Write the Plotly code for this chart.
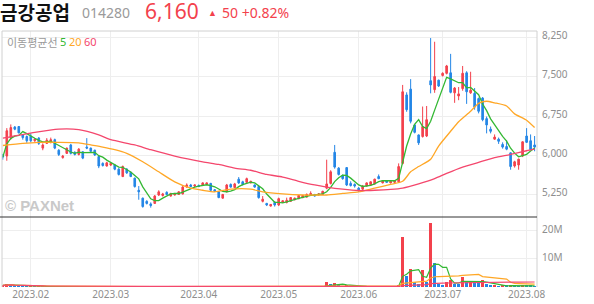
import pandas as pd
import plotly.graph_objects as go

# ---------------- data ----------------
holidays = ["2023-01-23", "2023-01-24", "2023-03-01", "2023-05-01", "2023-05-05", "2023-05-29", "2023-06-06"]
dates = [d for d in pd.bdate_range("2023-01-19", "2023-08-03") if d.strftime("%Y-%m-%d") not in holidays]

opens = [6010, 5990, 6330, 6540, 6550, 6390, 6360, 6370, 6280, 6330, 6140, 6230, 6250, 6300, 6100, 5960, 6040, 6200, 6060, 6020,
         6070, 6160, 6140, 6100, 5980, 5850, 5800, 5820, 5820, 5740, 5600, 5740, 5680, 5570, 5340, 5190, 5130, 5080, 5090, 5250,
         5240, 5300, 5230, 5250, 5260, 5270, 5400, 5440, 5420, 5430, 5440, 5450, 5470, 5350, 5310, 5190, 5310, 5450, 5390, 5550,
         5500, 5490, 5480, 5440, 5410, 5130, 5090, 5040, 5110, 5060, 5110, 5110, 5130, 5160, 5180, 5200, 5210, 5250, 5260, 5250,
         5260, 5380, 5470, 6060, 5760, 5620, 5770, 5470, 5450, 5380, 5360, 5420, 5440, 5460, 5600, 5480, 5520, 5480, 5490, 5500,
         5850, 7150, 7260, 6580, 6390, 6360, 6370, 7420, 7250, 7430, 7520, 7560, 7570, 7190, 7130, 7270, 7570, 7190, 7180, 7080,
         7090, 6700, 6500, 6310, 6310, 6210, 6170, 6050, 5800, 5820, 5990, 6370, 6280, 6200]
highs = [6030, 6520, 6590, 6560, 6560, 6400, 6380, 6420, 6330, 6350, 6230, 6330, 6340, 6320, 6120, 6010, 6150, 6220, 6080, 6140,
         6080, 6330, 6150, 6110, 6000, 5870, 5880, 5870, 5840, 5760, 5810, 5760, 5690, 5580, 5420, 5200, 5150, 5110, 5250, 5340,
         5290, 5320, 5290, 5290, 5320, 5420, 5470, 5460, 5450, 5450, 5490, 5490, 5480, 5360, 5320, 5270, 5460, 5470, 5480, 5590,
         5520, 5580, 5520, 5450, 5420, 5230, 5100, 5080, 5130, 5200, 5150, 5200, 5210, 5200, 5250, 5250, 5280, 5320, 5270, 5280,
         5330, 5920, 5720, 6200, 5780, 5640, 5780, 5510, 5470, 5400, 5440, 5490, 5510, 5560, 5640, 5530, 5530, 5520, 5530, 5850,
         7340, 7200, 7450, 6600, 6400, 6930, 6940, 8230, 8160, 7440, 7580, 7720, 7930, 7300, 7300, 7700, 7600, 7590, 7280, 7100,
         7110, 6740, 6550, 6400, 6340, 6250, 6290, 6060, 5900, 5940, 6270, 6520, 6400, 6370]
lows = [5920, 5900, 6300, 6480, 6420, 6300, 6240, 6250, 6260, 6200, 6100, 6220, 6230, 6120, 5990, 5940, 6030, 6020, 6000, 6000,
        5930, 6120, 6060, 5990, 5760, 5790, 5790, 5800, 5720, 5620, 5590, 5650, 5590, 5390, 5160, 5010, 5070, 5010, 5080, 5230,
        5220, 5250, 5220, 5240, 5250, 5260, 5390, 5400, 5400, 5400, 5430, 5440, 5320, 5310, 5190, 5180, 5300, 5390, 5380, 5460,
        5430, 5480, 5470, 5390, 5180, 5110, 5040, 5030, 5030, 5040, 5100, 5090, 5120, 5150, 5170, 5190, 5200, 5240, 5220, 5240,
        5250, 5360, 5450, 5750, 5620, 5540, 5420, 5410, 5390, 5310, 5320, 5410, 5430, 5450, 5550, 5470, 5480, 5470, 5480, 5480,
        5830, 6830, 6610, 6420, 6200, 6340, 6350, 7180, 7190, 7300, 7500, 7540, 7180, 7000, 7050, 7230, 6980, 7170, 6870, 6800,
        6650, 6420, 6420, 6300, 6220, 6130, 6100, 5730, 5770, 5730, 5970, 6240, 6100, 6080]
closes = [5970, 6470, 6530, 6500, 6430, 6340, 6280, 6280, 6310, 6230, 6200, 6290, 6300, 6140, 6020, 5990, 6140, 6040, 6020, 6120,
          5950, 6140, 6080, 6010, 5800, 5810, 5860, 5850, 5740, 5640, 5790, 5670, 5600, 5410, 5310, 5030, 5090, 5050, 5230, 5310,
          5270, 5260, 5280, 5270, 5310, 5400, 5440, 5410, 5440, 5410, 5480, 5480, 5340, 5320, 5200, 5260, 5440, 5400, 5460, 5480,
          5450, 5560, 5510, 5400, 5200, 5170, 5060, 5070, 5060, 5180, 5140, 5150, 5200, 5190, 5240, 5240, 5260, 5280, 5230, 5270,
          5320, 5460, 5690, 5780, 5640, 5560, 5440, 5430, 5420, 5350, 5420, 5480, 5500, 5550, 5560, 5520, 5490, 5510, 5520, 5790,
          7210, 6870, 6650, 6440, 6240, 6550, 6680, 7340, 7500, 7320, 7560, 7700, 7200, 7280, 7170, 7560, 7210, 7240, 6920, 6840,
          6680, 6580, 6460, 6350, 6270, 6160, 6120, 5790, 5880, 5930, 6260, 6250, 6110, 6160]
volumes_m = [0.6, 0.9, 0.7, 0.4, 0.3, 0.25, 0.2, 0.2, 0.15, 0.2, 0.15, 0.15, 0.12, 0.2, 0.2, 0.12, 0.15, 0.15, 0.1, 0.12,
             0.12, 0.15, 0.1, 0.1, 0.2, 0.1, 0.08, 0.1, 0.1, 0.12, 0.15, 0.1, 0.1, 0.18, 0.2, 0.25, 0.12, 0.1, 0.15, 0.12,
             0.1, 0.08, 0.08, 0.07, 0.08, 0.12, 0.1, 0.08, 0.07, 0.07, 0.08, 0.07, 0.1, 0.08, 0.1, 0.08, 0.12, 0.08, 0.09, 0.1,
             0.08, 0.09, 0.07, 0.08, 0.15, 0.1, 0.1, 0.07, 0.08, 0.1, 0.07, 0.07, 0.08, 0.07, 0.08, 0.07, 0.08, 0.1, 0.07, 0.07,
             0.1, 1.8, 1.0, 1.5, 0.5, 0.3, 0.6, 0.3, 0.2, 0.15, 0.15, 0.2, 0.18, 0.2, 0.25, 0.15, 0.12, 0.15, 0.2, 0.6,
             17.9, 3.8, 6.3, 1.8, 1.2, 6.0, 1.9, 22.9, 8.6, 1.0, 0.6, 1.8, 2.4, 1.2, 1.1, 3.6, 1.8, 1.9, 1.8, 1.7,
             2.4, 1.0, 0.4, 0.5, 0.3, 0.5, 0.4, 0.6, 0.4, 0.3, 0.6, 0.5, 0.4, 0.3]

# moving averages (index, price)
ma20_idx = [0, 5, 9, 14, 19, 22, 25, 28, 31, 35, 39, 43, 47, 50, 53, 57, 62, 65, 70, 75, 79, 81, 85, 89, 93, 97, 100,
            102, 104, 107, 109, 112, 114, 117, 119, 121, 123, 126, 128, 131, 133]
ma20_val = [6190, 6230, 6250, 6250, 6240, 6200, 6160, 6110, 6040, 5880, 5690, 5500, 5380, 5340, 5310, 5360, 5360, 5310, 5270,
            5250, 5250, 5250, 5280, 5310, 5380, 5450, 5510, 5690, 5790, 5930, 6180, 6460, 6640, 6840, 6990, 7030, 7000, 6940,
            6790, 6670, 6530]
ma60_idx = [0, 8, 14, 19, 24, 27, 33, 37, 43, 50, 54, 58, 62, 66, 70, 74, 78, 81, 85, 89, 93, 97, 100, 104, 108, 111, 115,
            119, 123, 127, 131, 133]
ma60_val = [6330, 6440, 6500, 6490, 6390, 6300, 6200, 6110, 5990, 5880, 5830, 5760, 5720, 5640, 5590, 5510, 5440, 5400, 5360,
            5335, 5340, 5355, 5380, 5460, 5560, 5660, 5780, 5870, 5960, 6020, 6090, 6120]

stock_name = "금강공업"
stock_code = "014280"
last_price = "6,160"
change_text = "50 +0.82%"
legend_title = "이동평균선"
legend_periods = ["5", "20", "60"]
month_labels = ["2023.02", "2023.03", "2023.04", "2023.05", "2023.06", "2023.07", "2023.08"]
price_ticks = [5250, 6000, 6750, 7500, 8250]
vol_ticks = [10e6, 20e6]
vol_tick_text = ["10M", "20M"]

# ---------------- derived ----------------
idx = list(range(len(dates)))
vol = pd.Series(volumes_m) * 1e6
close_s = pd.Series(closes)
ma5 = close_s.rolling(5, min_periods=1).mean()
vma5 = vol.rolling(5, min_periods=1).mean()
vma20 = vol.rolling(20, min_periods=1).mean()
vma60 = vol.rolling(60, min_periods=1).mean()

RED = "#f3414c"
BLUE = "#2486e6"
GREEN = "#33b833"
ORANGE = "#ffa726"
PINK = "#f4476d"
GRID = "#eeeeee"
TXT = "#8e8e8e"

vol_colors = [RED] + [RED if vol[i] >= vol[i - 1] else BLUE for i in range(1, len(vol))]

first_of_month = []
for i, d in enumerate(dates):
    if i > 0 and d.month != dates[i - 1].month:
        first_of_month.append(i)

# ---------------- geometry ----------------
W, H = 594, 304
ML, MR, MT, MB = 2, 57, 31, 17
PW, PH = W - ML - MR, H - MT - MB
split = (287 - 217) / PH


def px(x):
    return (x - ML) / PW


def py(y):
    return (H - MB - y) / PH


fig = go.Figure()
fig.add_trace(go.Candlestick(
    x=idx, open=opens, high=highs, low=lows, close=closes,
    increasing=dict(line=dict(color=RED, width=1), fillcolor=RED),
    decreasing=dict(line=dict(color=BLUE, width=1), fillcolor=BLUE),
    whiskerwidth=0, xaxis="x", yaxis="y", hoverinfo="skip"))
fig.add_trace(go.Scatter(x=idx, y=ma5, mode="lines", line=dict(color=GREEN, width=1.3), xaxis="x", yaxis="y"))
fig.add_trace(go.Scatter(x=ma20_idx, y=ma20_val, mode="lines", line=dict(color=ORANGE, width=1.3, shape="spline", smoothing=0.6), xaxis="x", yaxis="y"))
fig.add_trace(go.Scatter(x=ma60_idx, y=ma60_val, mode="lines", line=dict(color=PINK, width=1.3, shape="spline", smoothing=0.6), xaxis="x", yaxis="y"))

fig.add_trace(go.Bar(x=idx, y=vol, marker=dict(color=vol_colors, line=dict(width=0)), width=0.72, xaxis="x", yaxis="y2"))
fig.add_trace(go.Scatter(x=idx, y=vma5, mode="lines", line=dict(color=GREEN, width=1.2), xaxis="x", yaxis="y2"))
fig.add_trace(go.Scatter(x=idx, y=vma20, mode="lines", line=dict(color=ORANGE, width=1.2), xaxis="x", yaxis="y2"))
fig.add_trace(go.Scatter(x=idx, y=vma60, mode="lines", line=dict(color=PINK, width=1.2), xaxis="x", yaxis="y2"))

fig.update_layout(
    width=W, height=H, margin=dict(l=ML, r=MR, t=MT, b=MB),
    paper_bgcolor="white", plot_bgcolor="white", showlegend=False,
    boxgap=0.42, bargap=0,
    xaxis=dict(domain=[0, 1], range=[-0.2, 133.6], anchor="y2",
               tickvals=first_of_month, ticktext=month_labels,
               showgrid=True, gridcolor=GRID, gridwidth=1, zeroline=False, showline=False, ticks="",
               tickfont=dict(family="Noto Sans", size=10, color=TXT), rangeslider=dict(visible=False)),
    yaxis=dict(domain=[split, 1], range=[4832, 8364], side="right", anchor="x",
               tickvals=price_ticks, tickformat=",d", showgrid=True, gridcolor=GRID, zeroline=False,
               showline=False, ticks="", ticklabelshift=-2, ticklabelstandoff=4,
               tickfont=dict(family="Noto Sans", size=10, color=TXT)),
    yaxis2=dict(domain=[0, split], range=[0, 24.9e6], side="right", anchor="x",
                tickvals=vol_ticks, ticktext=vol_tick_text, showgrid=True, gridcolor=GRID, zeroline=False,
                showline=False, ticks="", ticklabelshift=-1, ticklabelstandoff=4,
                tickfont=dict(family="Noto Sans", size=10, color=TXT)),
)

shapes = [
    dict(type="line", xref="paper", yref="paper", x0=0, x1=1, y0=1, y1=1, line=dict(color="#d0d0d0", width=1)),
    dict(type="line", xref="paper", yref="paper", x0=0, x1=0, y0=0, y1=1, line=dict(color="#d0d0d0", width=1)),
    dict(type="line", xref="paper", yref="paper", x0=1, x1=1, y0=0, y1=1, line=dict(color="#d0d0d0", width=1)),
    dict(type="line", xref="paper", yref="paper", x0=px(0), x1=1, y0=split, y1=split, line=dict(color="#333333", width=1)),
]
fig.update_layout(shapes=shapes)

ann = []


def add_text(text, x, y, size, color, family="Noto Sans", anchor="left"):
    ann.append(dict(text=text, x=px(x), y=py(y), xref="paper", yref="paper", xanchor=anchor, yanchor="middle",
                    showarrow=False, borderpad=0, font=dict(family=family, size=size, color=color)))


add_text("<b>" + stock_name + "</b>", -1, 11, 19, "#111111", family="Noto Sans CJK KR")
add_text(stock_code, 81, 12.5, 14, "#9a9a9a")
add_text(last_price, 144, 11, 21, RED)
add_text("▲", 207, 12, 9, RED)
add_text(change_text, 221, 12.5, 14, RED)
add_text(legend_title, 6, 41.5, 11, "#9a9a9a", family="Noto Sans CJK KR")
for label, xpos, col in zip(legend_periods, [58.5, 67.5, 82.5], [GREEN, ORANGE, PINK]):
    add_text(label, xpos, 41.5, 11, col)
add_text("<b>© PAXNet</b>", 4, 205, 15, "#c9c9c9", family="Liberation Sans")
fig.update_layout(annotations=ann)

fig.write_html("out.html")
